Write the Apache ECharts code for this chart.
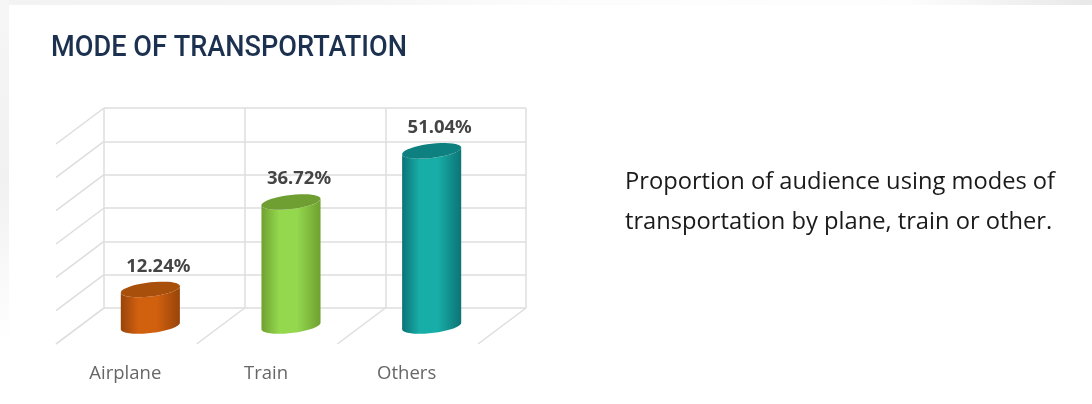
<!DOCTYPE html>
<html>
<head>
<meta charset="utf-8">
<title>Mode of transportation</title>
<script src="https://cdn.jsdelivr.net/npm/echarts@6/dist/echarts.min.js"></script>
<style>
  html, body { margin: 0; padding: 0; background: #fff; }
  #chart { width: 1092px; height: 404px; }
</style>
</head>
<body>
<div id="chart"></div>
<script>
const categories = ["Airplane", "Train", "Others"];
const shares = [12.24, 36.72, 51.04];
const gridTicks = [0, 10, 20, 30, 40, 50, 60];

const barColors = [
  { edge: "#98440a", mid: "#d2610f", top: "#a84f0b" },
  { edge: "#6fa130", mid: "#94d84e", top: "#6f9f33" },
  { edge: "#0c7476", mid: "#18aea8", top: "#0f8080" },
];

// fake 3d depth, the chart is an old excel style cylinder chart
const depthX = -48;
const depthY = 36;

const chart = echarts.init(document.getElementById("chart"));

// points of a slightly tilted ellipse, from angle a to angle b
const ellipsePoints = (cx, cy, rx, ry, from, to) => {
  const pts = [];
  for (let i = 0; i <= 40; i++) {
    const t = from + ((to - from) * i) / 40;
    const px = rx * Math.cos(t);
    pts.push([cx + px, cy + ry * Math.sin(t) - 0.11 * px]);
  }
  return pts;
};

const renderBar = (params, api) => {
  const i = api.value(0);
  const value = api.value(1);
  const band = api.size([1, 0])[0];
  const top = api.coord([i, value]);
  const base = api.coord([i, api.value(2)]);
  const cx = top[0] + depthX / 2;
  const topY = top[1] + depthY / 2;
  const baseY = base[1] + depthY / 2;
  const rx = band * 0.21;
  const ry = 7.1;
  const c = barColors[i];
  const side = ellipsePoints(cx, topY, rx, ry, Math.PI, 0).concat(
    ellipsePoints(cx, baseY, rx, ry, 0, Math.PI)
  );
  return {
    type: "group",
    children: [
      {
        type: "polygon",
        shape: { points: side },
        style: {
          fill: new echarts.graphic.LinearGradient(0, 0, 1, 0, [
            { offset: 0, color: c.edge },
            { offset: 0.3, color: c.mid },
            { offset: 0.6, color: c.mid },
            { offset: 1, color: c.edge },
          ]),
        },
      },
      {
        type: "polygon",
        shape: { points: ellipsePoints(cx, topY, rx, ry, 0, Math.PI * 2) },
        style: { fill: c.top },
      },
      {
        type: "text",
        x: cx + 8,
        y: topY - 23,
        style: {
          text: value.toFixed(2) + "%",
          fill: "#444",
          font: "bold 18.5px 'Noto Sans'",
          align: "center",
          verticalAlign: "middle",
        },
      },
    ],
  };
};

// diagonal lines of the left wall
const renderWall = (params, api) => {
  const band = api.size([1, 0])[0];
  const p = api.coord([0, api.value(0)]);
  const x = p[0] - band / 2;
  return {
    type: "line",
    shape: { x1: x, y1: p[1], x2: x + depthX, y2: p[1] + depthY },
    style: { stroke: "#dedede", lineWidth: 1.5 },
  };
};

// diagonal lines of the floor, one for each category border
const renderFloor = (params, api) => {
  const band = api.size([1, 0])[0];
  const p = api.coord([api.value(0), 0]);
  const x = p[0] + band / 2;
  return {
    type: "line",
    shape: { x1: x, y1: p[1], x2: x + depthX, y2: p[1] + depthY },
    style: { stroke: "#dedede", lineWidth: 1.5 },
  };
};

const option = {
  animation: false,
  backgroundColor: "#fff",
  textStyle: { fontFamily: "Noto Sans" },
  title: {
    text: "Proportion of audience using modes of\ntransportation by plane, train or other.",
    left: 620,
    top: 157,
    textStyle: {
      fontFamily: "Open Sans",
      fontSize: 23.7,
      fontWeight: "normal",
      lineHeight: 40,
      color: "#1a1a1a",
    },
  },
  graphic: [
    {
      type: "rect",
      silent: true,
      shape: { x: 0, y: 0, width: 1092, height: 5 },
      style: {
        fill: new echarts.graphic.LinearGradient(0, 0, 1, 0, [
          { offset: 0, color: "#f3f3f3" },
          { offset: 0.3, color: "#f4f4f4" },
          { offset: 0.5, color: "#fcfcfc" },
          { offset: 0.83, color: "#fdfdfd" },
          { offset: 1, color: "#e8e8e8" },
        ]),
      },
    },
    {
      type: "rect",
      silent: true,
      shape: { x: 0, y: 0, width: 9, height: 404 },
      style: {
        fill: new echarts.graphic.LinearGradient(0, 0, 0, 1, [
          { offset: 0, color: "#f6f6f6" },
          { offset: 0.45, color: "#f1f1f1" },
          { offset: 0.85, color: "#ffffff" },
        ]),
      },
    },
    {
      type: "text",
      x: 51,
      y: 49,
      scaleX: 0.936,
      style: {
        text: "MODE OF TRANSPORTATION",
        font: "500 29px Roboto",
        fill: "#1c3150",
        verticalAlign: "middle",
      },
    },
  ],
  grid: { left: 104, right: 566, top: 108, bottom: 96 },
  xAxis: {
    type: "category",
    data: categories,
    axisTick: { show: false },
    axisLine: { show: false },
    axisLabel: {
      margin: 56,
      color: "#666",
      fontFamily: "Open Sans",
      fontSize: 18.5,
      padding: [0, 98, 0, 0],
    },
    splitLine: { show: true, lineStyle: { color: "#dedede", width: 1.5 } },
  },
  yAxis: [
    {
      type: "value",
      min: 0,
      max: 60,
      interval: 10,
      axisLabel: { show: false },
      axisLine: { show: false },
      axisTick: { show: false },
      splitLine: { lineStyle: { color: "#dedede", width: 1.5 } },
    },
    // no labels: the narrower range gives the cylinders their height against the wall
    { type: "value", show: false, min: 2, max: 58, splitLine: { show: false } },
  ],
  series: [
    {
      type: "custom",
      renderItem: renderWall,
      data: gridTicks.map((t) => [t]),
      encode: { y: 0 },
      clip: false,
      silent: true,
      z: 1,
    },
    {
      type: "custom",
      renderItem: renderFloor,
      data: categories.map((c, i) => [i]).concat([[-1]]),
      encode: { x: 0 },
      clip: false,
      silent: true,
      z: 1,
    },
    {
      type: "custom",
      yAxisIndex: 1,
      renderItem: renderBar,
      data: shares.map((v, i) => [i, v, 2]),
      encode: { x: 0, y: 1 },
      clip: false,
      silent: true,
      z: 3,
    },
  ],
};

chart.setOption(option);
</script>
</body>
</html>
